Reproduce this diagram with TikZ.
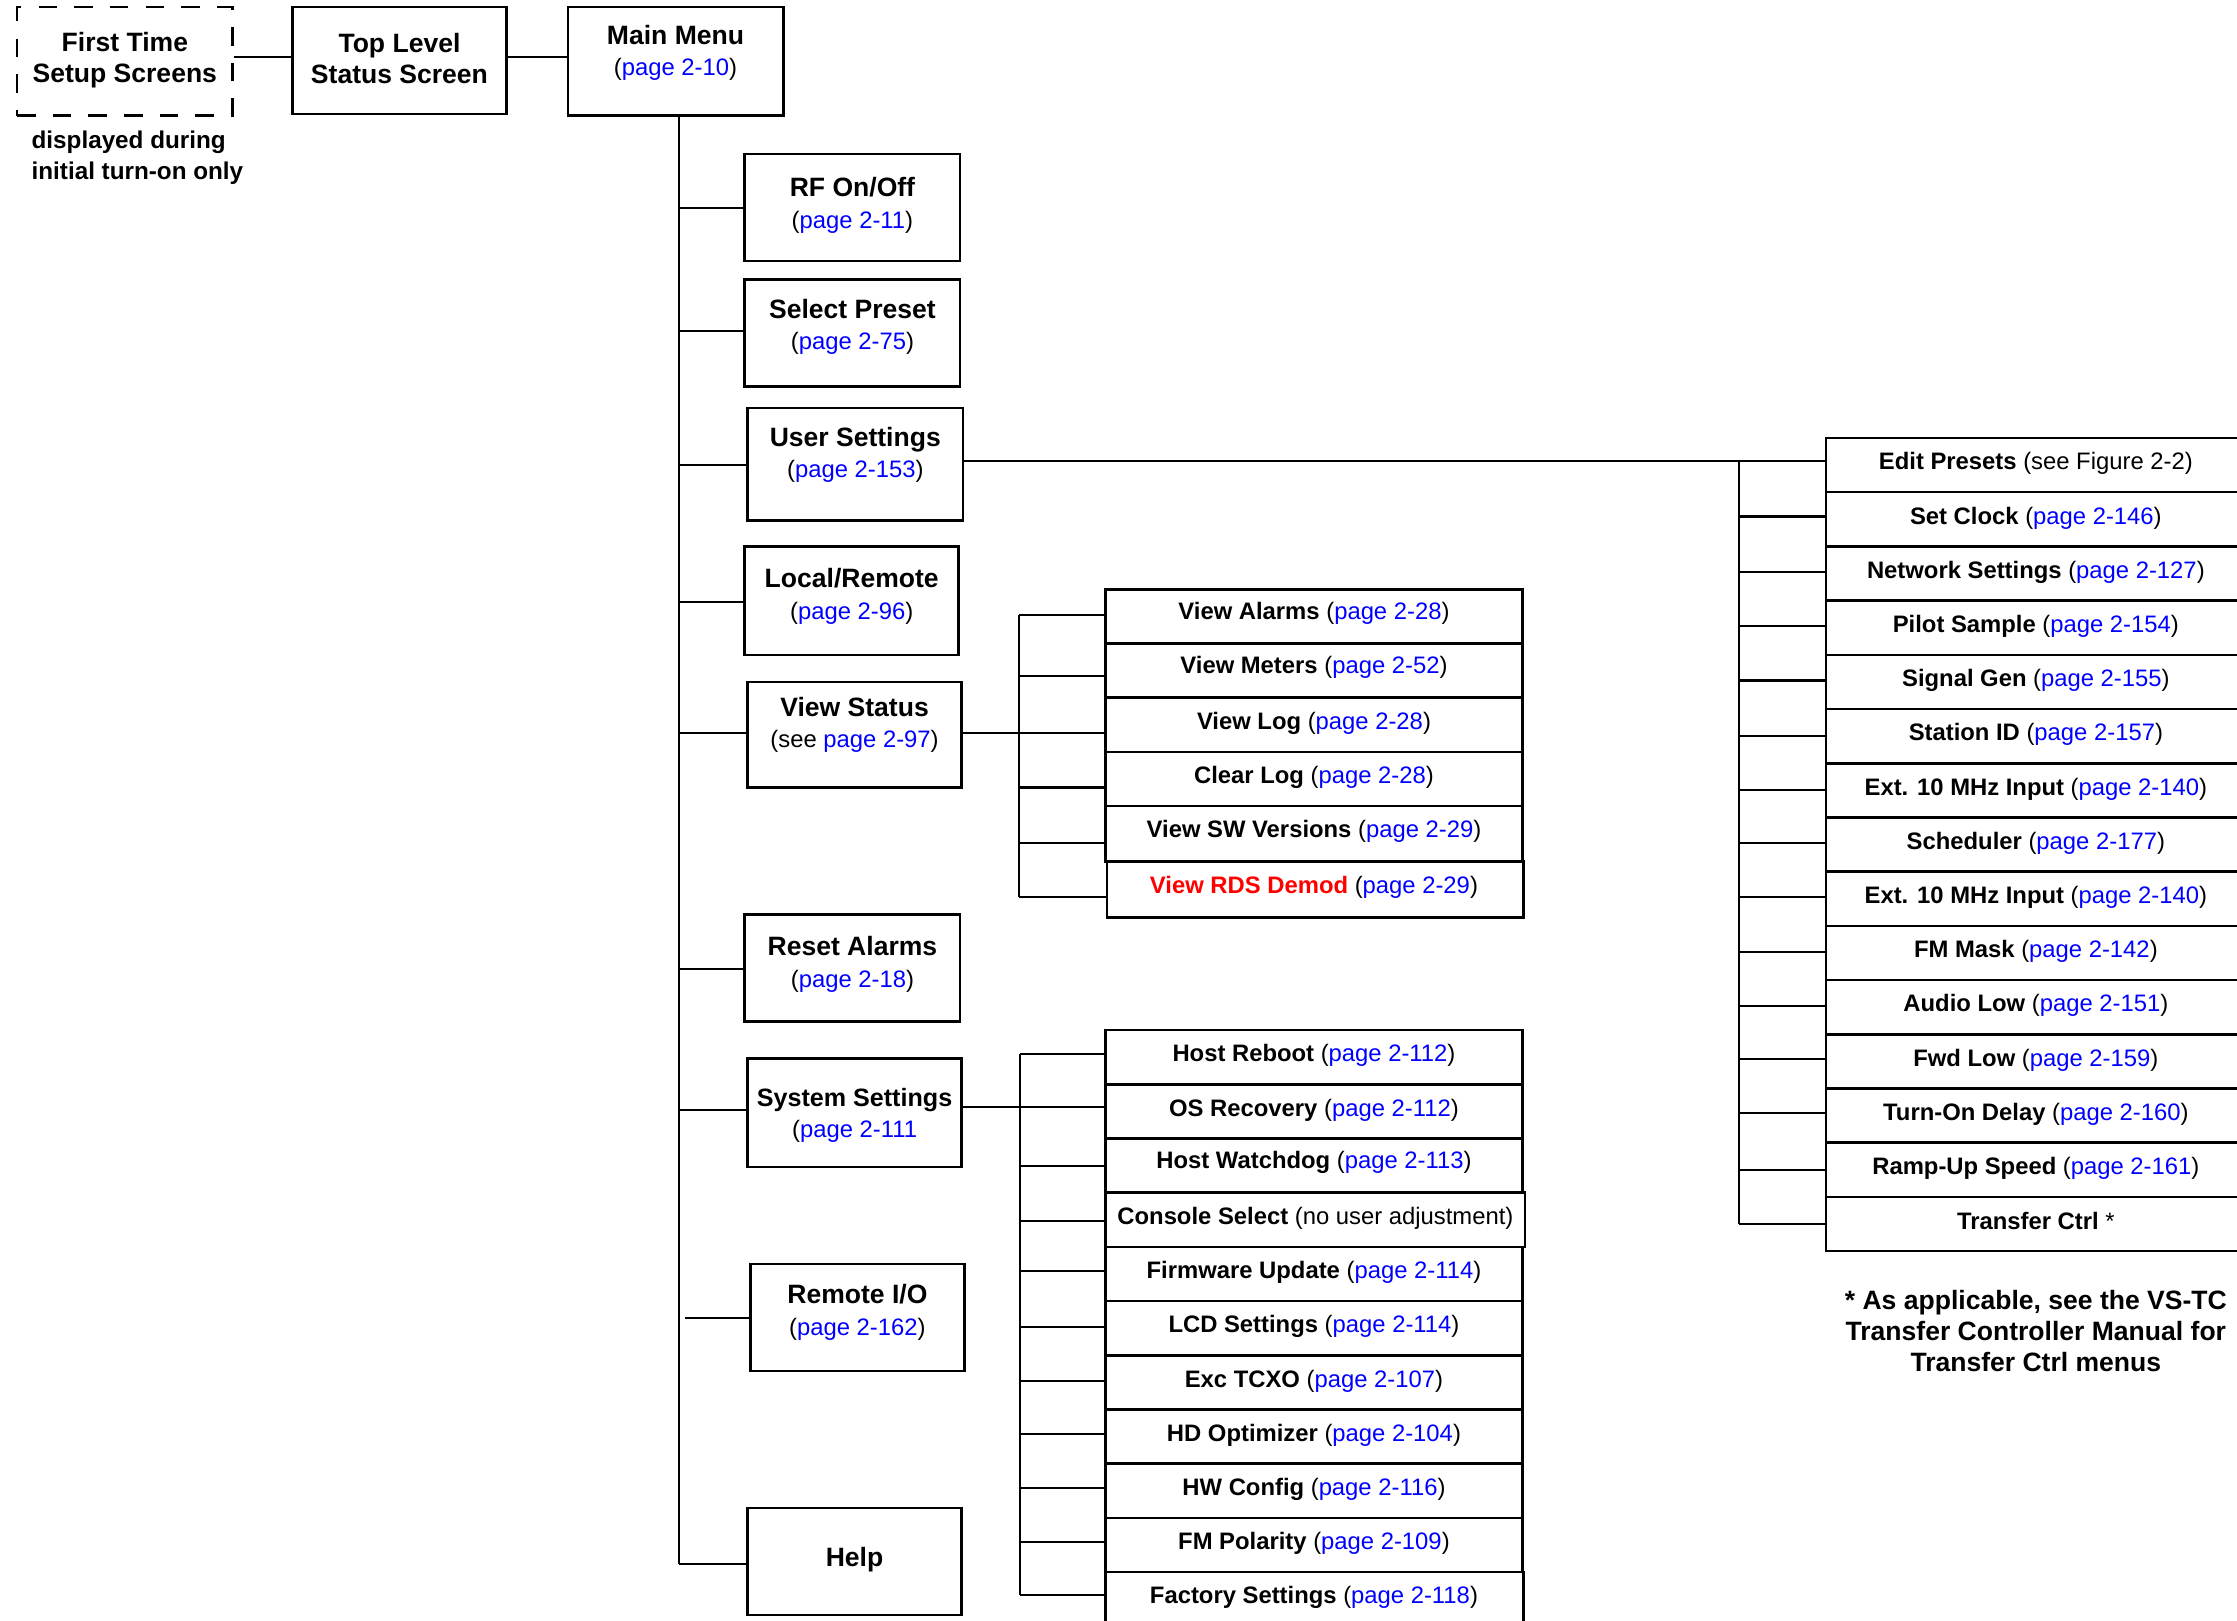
\documentclass[tikz,border=0pt]{standalone}
\usepackage{fontspec}
\setmainfont{Liberation Sans}
\usetikzlibrary{fit}
\definecolor{linkblue}{RGB}{0,0,255}
\definecolor{rdsred}{RGB}{255,0,0}
\newcommand\pg[1]{(\textcolor{linkblue}{page #1})}
\begin{document}
\begin{tikzpicture}[x=1pt,y=-1pt,
  box/.style={draw, inner sep=0pt, line width=1.8pt},
  dbox/.style={draw, inner sep=0pt, line width=1.6pt, dash pattern=on 13pt off 12pt},
  txt/.style={inner sep=0pt, align=center, yshift=-2pt, font=\fontsize{18.6}{22}\selectfont},
  sub/.style={inner sep=0pt, yshift=-2pt, font=\fontsize{16.7}{20}\selectfont},
  conn/.style={line width=1.5pt}]
\useasboundingbox (0,0) rectangle (1568,1136);
\clip (0,0) rectangle (1568,1136);
\fill[white] (0,0) rectangle (1568,1136);

% ---------- top row ----------
\node[dbox, fit={(12,5) (163,81)}] (ft) {};
\node[txt] (ft-t) at (ft |- 0,40) {\bfseries First Time\\\bfseries Setup Screens};
\node[txt, align=left, anchor=west] (ft-n) at (22,108.5) {\fontsize{17}{21}\selectfont\bfseries displayed during\\\fontsize{17}{21}\selectfont\bfseries initial turn-on only};
\node[box, fit={(205,5) (355,80)}] (tl) {};
\node[txt] (tl-t) at (tl |- 0,39) {\bfseries Top Level\\\bfseries Status Screen};
\node[box, fit={(398,5) (549,81)}] (mm) {};
\node[txt] (mm-t) at (mm |- 0,35) {\bfseries Main Menu\\\fontsize{16.7}{22}\selectfont\pg{2-10}};
\draw[conn] (ft.east |- 0,40) -- (tl.west |- 0,40);
\draw[conn] (tl.east |- 0,40) -- (mm.west |- 0,40);

% ---------- main menu children ----------
\node[box, fit={(522,108) (673,183)}] (rf) {};
\node[txt] (rf-t) at (rf |- 0,142) {\bfseries RF On/Off\\\fontsize{16.7}{22}\selectfont\pg{2-11}};
\node[box, fit={(522,196) (673,271)}] (sp) {};
\node[txt] (sp-t) at (sp |- 0,227) {\bfseries Select Preset\\\fontsize{16.7}{22}\selectfont\pg{2-75}};
\node[box, fit={(524,286) (675,365)}] (us) {};
\node[txt] (us-t) at (us |- 0,317) {\bfseries User Settings\\\fontsize{16.7}{24}\selectfont\pg{2-153}};
\node[box, fit={(522,383) (672,459)}] (lr) {};
\node[txt] (lr-t) at (lr |- 0,416) {\bfseries Local/Remote\\\fontsize{16.7}{22}\selectfont\pg{2-96}};
\node[box, fit={(524,478) (674,552)}] (vs) {};
\node[txt] (vs-t) at (vs |- 0,506) {\bfseries View Status\\\fontsize{16.7}{22}\selectfont(see \textcolor{linkblue}{page 2-97})};
\node[box, fit={(522,641) (673,716)}] (ra) {};
\node[txt] (ra-t) at (ra |- 0,674) {\bfseries Reset Alarms\\\fontsize{16.7}{22}\selectfont\pg{2-18}};
\node[box, fit={(524,742) (674,818)}] (ss) {};
\node[txt] (ss-t) at (ss |- 0,780) {\fontsize{17.6}{21}\selectfont\bfseries System Settings\\\fontsize{16.7}{21}\selectfont(\textcolor{linkblue}{page 2-111}};
\node[box, fit={(526,886) (676,961)}] (rio) {};
\node[txt] (rio-t) at (rio |- 0,918) {\bfseries Remote I/O\\\fontsize{16.7}{22}\selectfont\pg{2-162}};
\node[box, fit={(524,1057) (674,1132)}] (hp) {};
\node[txt] (hp-t) at (hp |- 0,1091) {\bfseries Help};

% trunk
\coordinate (trT) at (mm.south -| 476,0);
\coordinate (trB) at (476,1096);
\draw[conn] (trT) -- (trB);
\draw[conn] (trT |- 0,146) -- (rf.west |- 0,146);
\draw[conn] (trT |- 0,232) -- (sp.west |- 0,232);
\draw[conn] (trT |- 0,326) -- (us.west |- 0,326);
\draw[conn] (trT |- 0,422) -- (lr.west |- 0,422);
\draw[conn] (trT |- 0,514) -- (vs.west |- 0,514);
\draw[conn] (trT |- 0,679) -- (ra.west |- 0,679);
\draw[conn] (trT |- 0,778) -- (ss.west |- 0,778);
\coordinate (rioS) at (480,924);
\draw[conn] (rioS) -- (rio.west |- 0,924);
\draw[conn] (trB) -- (hp.west |- 0,1096);

% ---------- View Status submenu ----------
\node[box, fit={(775,413) (1067,451)}] (v1) {};
\node[sub] (v1-t) at (921,428) {\bfseries View Alarms \mdseries\pg{2-28}};
\node[box, fit={(775,451) (1067,489)}] (v2) {};
\node[sub] (v2-t) at (921,466) {\bfseries View Meters \mdseries\pg{2-52}};
\node[box, fit={(775,489) (1067,527)}] (v3) {};
\node[sub] (v3-t) at (921,505) {\bfseries View Log \mdseries\pg{2-28}};
\node[box, fit={(775,527) (1067,565)}] (v4) {};
\node[sub] (v4-t) at (921,543) {\bfseries Clear Log \mdseries\pg{2-28}};
\node[box, fit={(775,565) (1067,604)}] (v5) {};
\node[sub] (v5-t) at (921,581) {\bfseries View SW Versions \mdseries\pg{2-29}};
\node[box, fit={(776,604) (1068,643)}] (v6) {};
\node[sub] (v6-t) at (921,620) {\textcolor{rdsred}{\bfseries View RDS Demod} \pg{2-29}};

\coordinate (vT) at (714,431);
\coordinate (vB) at (714,629);
\draw[conn] (vT) -- (vB);
\draw[conn] (vs.east |- 0,514) -- (v3.west |- 0,514);
\draw[conn] (vT) -- (v1.west |- vT);
\draw[conn] (vT |- 0,474) -- (v2.west |- 0,474);
\draw[conn] (vT |- 0,552) -- (v4.west |- 0,552);
\draw[conn] (vT |- 0,591) -- (v5.west |- 0,591);
\draw[conn] (vB) -- (v6.west |- vB);

% ---------- System Settings submenu ----------
\node[box, fit={(775,722) (1067,760)}] (s1) {};
\node[sub] (s1-t) at (921,738) {\bfseries Host Reboot \mdseries\pg{2-112}};
\node[box, fit={(775,760) (1067,798)}] (s2) {};
\node[sub] (s2-t) at (921,776) {\bfseries OS Recovery \mdseries\pg{2-112}};
\node[box, fit={(775,798) (1067,836)}] (s3) {};
\node[sub] (s3-t) at (921,813) {\bfseries Host Watchdog \mdseries\pg{2-113}};
\node[box, fit={(775,836) (1069,874)}] (s4) {};
\node[sub] (s4-t) at (922,852) {\bfseries Console Select \mdseries(no user adjustment)};
\node[box, fit={(775,874) (1067,912)}] (s5) {};
\node[sub] (s5-t) at (921,890) {\bfseries Firmware Update \mdseries\pg{2-114}};
\node[box, fit={(775,912) (1067,950)}] (s6) {};
\node[sub] (s6-t) at (921,928) {\bfseries LCD Settings \mdseries\pg{2-114}};
\node[box, fit={(775,950) (1067,988)}] (s7) {};
\node[sub] (s7-t) at (921,966) {\bfseries Exc TCXO \mdseries\pg{2-107}};
\node[box, fit={(775,988) (1067,1026)}] (s8) {};
\node[sub] (s8-t) at (921,1004) {\bfseries HD Optimizer \mdseries\pg{2-104}};
\node[box, fit={(775,1026) (1067,1064)}] (s9) {};
\node[sub] (s9-t) at (921,1042) {\bfseries HW Config \mdseries\pg{2-116}};
\node[box, fit={(775,1064) (1067,1102)}] (s10) {};
\node[sub] (s10-t) at (921,1080) {\bfseries FM Polarity \mdseries\pg{2-109}};
\node[box, fit={(775,1102) (1068,1145)}] (s11) {};
\node[sub] (s11-t) at (921,1118) {\bfseries Factory Settings \mdseries\pg{2-118}};

\coordinate (sT) at (715,739);
\coordinate (sB) at (715,1118);
\draw[conn] (sT) -- (sB);
\draw[conn] (ss.east |- 0,776) -- (s2.west |- 0,776);
\draw[conn] (sT) -- (s1.west |- sT);
\draw[conn] (sT |- 0,817) -- (s3.west |- 0,817);
\draw[conn] (sT |- 0,856) -- (s4.west |- 0,856);
\draw[conn] (sT |- 0,891) -- (s5.west |- 0,891);
\draw[conn] (sT |- 0,930) -- (s6.west |- 0,930);
\draw[conn] (sT |- 0,968) -- (s7.west |- 0,968);
\draw[conn] (sT |- 0,1005) -- (s8.west |- 0,1005);
\draw[conn] (sT |- 0,1043) -- (s9.west |- 0,1043);
\draw[conn] (sT |- 0,1081) -- (s10.west |- 0,1081);
\draw[conn] (sB) -- (s11.west |- sB);

% ---------- User Settings submenu ----------
\node[box, fit={(1280,307) (1576,345)}] (u1) {};
\node[sub] (u1-t) at (1427,323) {\bfseries Edit Presets \mdseries(see Figure 2-2)};
\node[box, fit={(1280,345) (1576,383)}] (u2) {};
\node[sub] (u2-t) at (1427,361) {\bfseries Set Clock \mdseries\pg{2-146}};
\node[box, fit={(1280,383) (1576,421)}] (u3) {};
\node[sub] (u3-t) at (1427,399) {\bfseries Network Settings \mdseries\pg{2-127}};
\node[box, fit={(1280,421) (1576,459)}] (u4) {};
\node[sub] (u4-t) at (1427,437) {\bfseries Pilot Sample \mdseries\pg{2-154}};
\node[box, fit={(1280,459) (1576,497)}] (u5) {};
\node[sub] (u5-t) at (1427,475) {\bfseries Signal Gen \mdseries\pg{2-155}};
\node[box, fit={(1280,497) (1576,535)}] (u6) {};
\node[sub] (u6-t) at (1427,513) {\bfseries Station ID \mdseries\pg{2-157}};
\node[box, fit={(1280,535) (1576,573)}] (u7) {};
\node[sub] (u7-t) at (1427,551) {\bfseries Ext. 10 MHz Input \mdseries\pg{2-140}};
\node[box, fit={(1280,573) (1576,611)}] (u8) {};
\node[sub] (u8-t) at (1427,589) {\bfseries Scheduler \mdseries\pg{2-177}};
\node[box, fit={(1280,611) (1576,649)}] (u9) {};
\node[sub] (u9-t) at (1427,627) {\bfseries Ext. 10 MHz Input \mdseries\pg{2-140}};
\node[box, fit={(1280,649) (1576,687)}] (u10) {};
\node[sub] (u10-t) at (1427,665) {\bfseries FM Mask \mdseries\pg{2-142}};
\node[box, fit={(1280,687) (1576,725)}] (u11) {};
\node[sub] (u11-t) at (1427,703) {\bfseries Audio Low \mdseries\pg{2-151}};
\node[box, fit={(1280,725) (1576,763)}] (u12) {};
\node[sub] (u12-t) at (1427,741) {\bfseries Fwd Low \mdseries\pg{2-159}};
\node[box, fit={(1280,763) (1576,801)}] (u13) {};
\node[sub] (u13-t) at (1427,779) {\bfseries Turn-On Delay \mdseries\pg{2-160}};
\node[box, fit={(1280,801) (1576,839)}] (u14) {};
\node[sub] (u14-t) at (1427,817) {\bfseries Ramp-Up Speed \mdseries\pg{2-161}};
\node[box, fit={(1280,839) (1576,877)}] (u15) {};
\node[sub] (u15-t) at (1427,854) {\bfseries Transfer Ctrl \mdseries*};

\coordinate (uT) at (1219,323);
\coordinate (uB) at (1219,858);
\draw[conn] (us.east |- 0,323) -- (u1.west |- 0,323);
\draw[conn] (uT) -- (uB);
\draw[conn] (uT |- 0,362) -- (u2.west |- 0,362);
\draw[conn] (uT |- 0,401) -- (u3.west |- 0,401);
\draw[conn] (uT |- 0,439) -- (u4.west |- 0,439);
\draw[conn] (uT |- 0,477) -- (u5.west |- 0,477);
\draw[conn] (uT |- 0,516) -- (u6.west |- 0,516);
\draw[conn] (uT |- 0,554) -- (u7.west |- 0,554);
\draw[conn] (uT |- 0,591) -- (u8.west |- 0,591);
\draw[conn] (uT |- 0,629) -- (u9.west |- 0,629);
\draw[conn] (uT |- 0,667) -- (u10.west |- 0,667);
\draw[conn] (uT |- 0,705) -- (u11.west |- 0,705);
\draw[conn] (uT |- 0,742) -- (u12.west |- 0,742);
\draw[conn] (uT |- 0,780) -- (u13.west |- 0,780);
\draw[conn] (uT |- 0,820) -- (u14.west |- 0,820);
\draw[conn] (uB) -- (u15.west |- uB);

% footnote
\node[txt, yshift=2pt] (fn) at (1427,933) {\bfseries * As applicable, see the VS-TC\\\bfseries Transfer Controller Manual for\\\bfseries Transfer Ctrl menus};
\end{tikzpicture}
\end{document}
